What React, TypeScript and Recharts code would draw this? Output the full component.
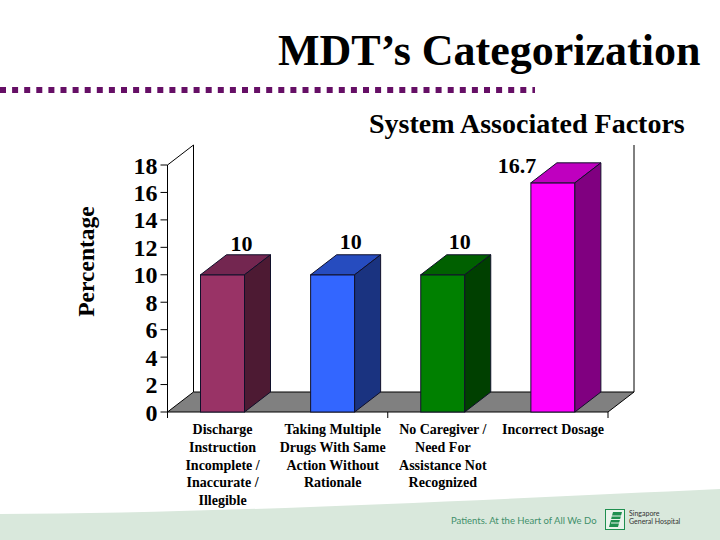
import { BarChart, Bar, XAxis, YAxis, Cell, LabelList, ReferenceArea } from 'recharts'

const categories = ['Discharge', 'Taking Multiple', 'No Caregiver', 'Incorrect Dosage']
const categoryLines = [
  ['Discharge', 'Instruction', 'Incomplete /', 'Inaccurate /', 'Illegible'],
  ['Taking Multiple', 'Drugs With Same', 'Action Without', 'Rationale'],
  ['No Caregiver /', 'Need For', 'Assistance Not', 'Recognized'],
  ['Incorrect Dosage'],
]
const values = [10, 10, 10, 16.7]
const yTicks = [0, 2, 4, 6, 8, 10, 12, 14, 16, 18]

const faceColors = ['#993366', '#3366FF', '#008000', '#FF00FF']
const topColors = ['#732650', '#264CBF', '#006000', '#BF00BF']
const sideColors = ['#4D1A33', '#1A3380', '#004000', '#800080']
const labelNudge = [
  [19, -31],
  [18, -33],
  [17, -33],
  [-36, -17],
]

const DX = 26
const DY = 20
const serif = '"Liberation Serif", serif'

const data = categories.map((name, i) => ({ name, value: values[i] }))

function Bar3D(props: any) {
  const { x, y, width, height, index } = props
  const stroke = '#10102a'
  return (
    <g stroke={stroke} strokeWidth={1}>
      <rect x={x} y={y} width={width} height={height} fill={faceColors[index]} />
      <path
        d={`M${x},${y} l${DX},${-DY} h${width} l${-DX},${DY} z`}
        fill={topColors[index]}
      />
      <path
        d={`M${x + width},${y} l${DX},${-DY} v${height} l${-DX},${DY} z`}
        fill={sideColors[index]}
      />
    </g>
  )
}

// back wall, side wall and floor of the 3D box
function Box3D(props: any) {
  const { x, y, width, height } = props
  const bottom = y + height
  return (
    <g stroke="#000" strokeWidth={1} fill="none">
      <path d={`M${x},${bottom} l${DX},${-DY} h${width} l${-DX},${DY} z`} fill="#808080" />
      <path d={`M${x},${y} l${DX},${-DY} v${height}`} />
      <path d={`M${x + DX + width},${y - DY} v${height}`} />
      <path d={`M${x},${bottom} v6 M${x + width / 2},${bottom} v6 M${x + width},${bottom} v6`} />
    </g>
  )
}

function CategoryTick(props: any) {
  const { x, index } = props
  return (
    <text
      textAnchor="middle"
      fontFamily={serif}
      fontWeight="bold"
      fontSize={14}
      fill="#000"
    >
      {categoryLines[index].map((line, i) => (
        <tspan key={i} x={x} y={434 + i * 17.8}>
          {line}
        </tspan>
      ))}
    </text>
  )
}

function ValueLabel(props: any) {
  const { x, y, width, value, index } = props
  return (
    <text
      x={x + width / 2 + labelNudge[index][0]}
      y={y + labelNudge[index][1]}
      dy={7}
      textAnchor="middle"
      fontFamily={serif}
      fontWeight="bold"
      fontSize={22}
      fill="#000"
    >
      {value}
    </text>
  )
}

function Backdrop() {
  return (
    <svg width={720} height={540} style={{ position: 'absolute', left: 0, top: 0 }}>
      <rect width={720} height={540} fill="#fff" />
      <path d="M0,514 C200,514 480,500 720,489 V540 H0 Z" fill="#D9E8DC" />
      <line
        x1={0}
        y1={90}
        x2={535}
        y2={90}
        stroke="#660F66"
        strokeWidth={6}
        strokeDasharray="6 6.1"
      />
      <text x={278} y={65} fontFamily={serif} fontWeight="bold" fontSize={44} fill="#000">
        MDT’s Categorization
      </text>
      <text x={369} y={133} fontFamily={serif} fontWeight="bold" fontSize={28} fill="#000">
        System Associated Factors
      </text>
      <text x={451} y={524} fontFamily="Lato, sans-serif" fontSize={9.5} fill="#3F8F6A">
        Patients. At the Heart of All We Do
      </text>
      <rect x={605.5} y={509.5} width={19} height={20} fill="#EAF3EC" stroke="#1F8F4F" />
      <path d="M609,527 L613,512 H622 L618,527 Z" fill="#1F8F4F" />
      <path d="M610,519.5 H621 M611,523 H620 M612,516 H622" stroke="#EAF3EC" strokeWidth={1} />
      <text fontFamily="Lato, sans-serif" fontSize={7} fill="#333">
        <tspan x={629} y={516}>Singapore</tspan>
        <tspan x={629} y={524}>General Hospital</tspan>
      </text>
    </svg>
  )
}

export default function App() {
  return (
    <div style={{ position: 'absolute', left: 0, top: 0, width: 720, height: 540 }}>
      <Backdrop />
      <div style={{ position: 'absolute', left: 0, top: 0 }}>
        <BarChart
          width={720}
          height={540}
          data={data}
          margin={{ top: 165, right: 112, bottom: 0, left: 0 }}
        >
          <ReferenceArea
            y1={0}
            y2={18}
            ifOverflow="visible"
            shape={<Box3D />}
            isFront={false}
          />
          <XAxis
            dataKey="name"
            height={128}
            axisLine={false}
            tickLine={false}
            interval={0}
            tick={<CategoryTick />}
          />
          <YAxis
            width={167.5}
            domain={[0, 18]}
            ticks={yTicks}
            interval={0}
            axisLine={{ stroke: '#000' }}
            tickLine={{ stroke: '#000' }}
            tickSize={7}
            tickMargin={3}
            tick={{ fontFamily: serif, fontWeight: 'bold', fontSize: 24, fill: '#000' }}
            label={{
              value: 'Percentage',
              angle: -90,
              position: 'insideLeft',
              dx: 81,
              dy: -27,
              style: { fontFamily: serif, fontWeight: 'bold', fontSize: 23.5, fill: '#000', textAnchor: 'middle' },
            }}
          />
          <Bar dataKey="value" barSize={44} shape={<Bar3D />} isAnimationActive={false}>
            {data.map((d, i) => (
              <Cell key={d.name} fill={faceColors[i]} />
            ))}
            <LabelList dataKey="value" content={<ValueLabel />} />
          </Bar>
        </BarChart>
      </div>
    </div>
  )
}
